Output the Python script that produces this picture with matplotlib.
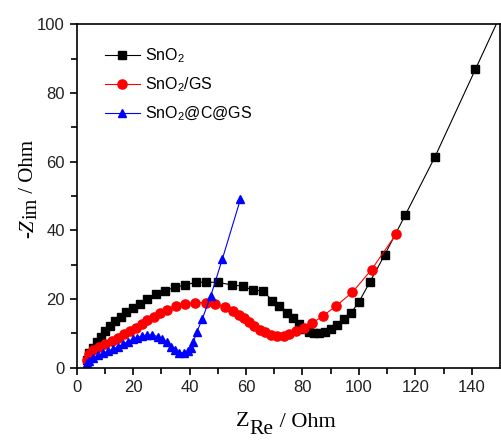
import numpy as np
import matplotlib.pyplot as plt

# Nyquist data (Z_Re, -Z_im in Ohm)
sno2_x = [3.5, 4.5, 5.7, 7.1, 8.5, 10.0, 11.8, 13.6, 15.6, 17.5, 19.9, 22.4, 25.0,
          28.0, 31.2, 34.9, 38.5, 42.2, 46.0, 50.1, 55.0, 58.9, 62.4, 66.2, 69.3,
          71.8, 74.7, 76.8, 78.9, 80.7, 82.5, 84.1, 86.0, 88.0, 90.1, 92.4, 94.7,
          97.3, 100.1, 103.9, 109.1, 116.4, 126.9, 141.3, 156.0]
sno2_y = [2.3, 4.3, 5.9, 7.6, 9.1, 10.8, 12.2, 13.5, 14.9, 16.2, 17.4, 18.6, 20.1,
          21.4, 22.4, 23.5, 24.1, 24.9, 24.9, 24.9, 24.1, 23.8, 22.6, 22.4, 19.5,
          18.0, 16.1, 14.4, 12.7, 11.2, 10.3, 10.1, 10.1, 10.4, 11.2, 12.5, 14.2,
          16.1, 19.3, 25.0, 32.8, 44.4, 61.3, 86.9, 113.0]

gs_x = [3.5, 4.5, 5.9, 8.0, 10.0, 12.4, 14.8, 16.8, 18.9, 21.0, 23.0, 25.0, 27.4,
        29.5, 32.1, 35.2, 38.4, 42.0, 45.7, 49.0, 52.6, 55.5, 57.7, 59.4, 61.2,
        63.0, 64.8, 66.7, 68.8, 70.9, 73.3, 75.4, 77.7, 80.4, 83.5, 87.4, 91.9,
        97.7, 104.5, 113.2]
gs_y = [2.3, 4.0, 5.2, 6.2, 6.9, 7.8, 8.8, 9.8, 10.8, 11.7, 12.9, 13.8, 14.9,
        15.9, 16.9, 18.0, 18.6, 19.0, 19.0, 18.5, 17.8, 16.6, 15.4, 14.4, 13.2,
        12.2, 10.9, 10.3, 9.6, 9.3, 9.3, 9.8, 10.6, 11.5, 13.0, 15.2, 18.0,
        22.0, 28.6, 38.9]

cgs_x = [3.5, 4.5, 5.9, 7.7, 9.4, 11.2, 13.0, 14.8, 16.5, 18.1, 19.9, 21.5, 23.3,
         25.0, 26.8, 28.7, 30.4, 31.9, 33.4, 34.9, 36.4, 38.0, 39.5, 40.5, 41.4,
         42.5, 44.5, 47.5, 51.6, 58.0]
cgs_y = [1.5, 2.0, 2.8, 3.6, 4.3, 4.9, 5.5, 6.2, 6.9, 7.6, 8.3, 8.8, 9.3,
         9.6, 9.6, 9.1, 8.4, 7.4, 6.2, 5.2, 4.4, 4.4, 4.9, 5.7, 7.6,
         10.3, 14.2, 20.9, 31.6, 49.0]

labels = ['SnO$_\\mathregular{2}$', 'SnO$_\\mathregular{2}$/GS', 'SnO$_\\mathregular{2}$@C@GS']

plt.rcParams['font.family'] = 'Liberation Sans'

W, H = 501, 440
fig = plt.figure(figsize=(W / 100, H / 100), dpi=100)
ax = fig.add_axes([0.153, 0.164, 0.845, 0.781])

ax.plot(sno2_x, sno2_y, '-s', color='black', lw=0.8, ms=5.8, label=labels[0])
ax.plot(gs_x, gs_y, '-o', color='red', lw=0.8, ms=6.6, label=labels[1])
ax.plot(cgs_x, cgs_y, '-^', color='blue', lw=0.8, ms=6.2, label=labels[2])

ax.set_xlim(0, 150)
ax.set_ylim(0, 100)
ax.set_xticks(np.arange(0, 141, 20))
ax.set_yticks(np.arange(0, 101, 20))
ax.set_xticks(np.arange(10, 150, 20), minor=True)
ax.set_yticks(np.arange(10, 100, 20), minor=True)
ax.tick_params(which='both', direction='out', labelsize=12, width=1.2, labelcolor='#222222')
ax.tick_params(which='major', length=5)
ax.tick_params(which='minor', length=4)
for s in ax.spines.values():
    s.set_linewidth(1.2)

ax.legend(loc='upper left', frameon=False, fontsize=11.5, handlelength=2.2,
          handletextpad=0.35, borderpad=0, borderaxespad=0,
          bbox_to_anchor=(28 / 423, 0.935), labelspacing=0.65)

# axis labels built from pieces so the subscripts stay full size
r = fig.canvas.get_renderer()
serif = 'Liberation Serif'

def piece(x, y, s, **kw):
    t = fig.text(x / W, y / H, s, family=serif, ha='left', va='baseline', **kw)
    return t, t.get_window_extent(r)

# x label: Z_Re / Ohm
t, bb = piece(236, 440 - 426, 'Z', fontsize=16)
t, bb = piece(bb.x1, 440 - 434, 'Re', fontsize=15.5)
piece(bb.x1 + 1, 440 - 427, ' / Ohm', fontsize=16)

# y label: -Z_im / Ohm (rotated)
rot = dict(rotation=90, rotation_mode='anchor')
t, bb = piece(33, 440 - 238, '-Z', fontsize=15, style='italic', **rot)
t, bb = piece(37, bb.y1, 'im', fontsize=14.5, **rot)
piece(33, bb.y1, ' / Ohm', fontsize=15, **rot)

fig.savefig('out.png', dpi=100)
